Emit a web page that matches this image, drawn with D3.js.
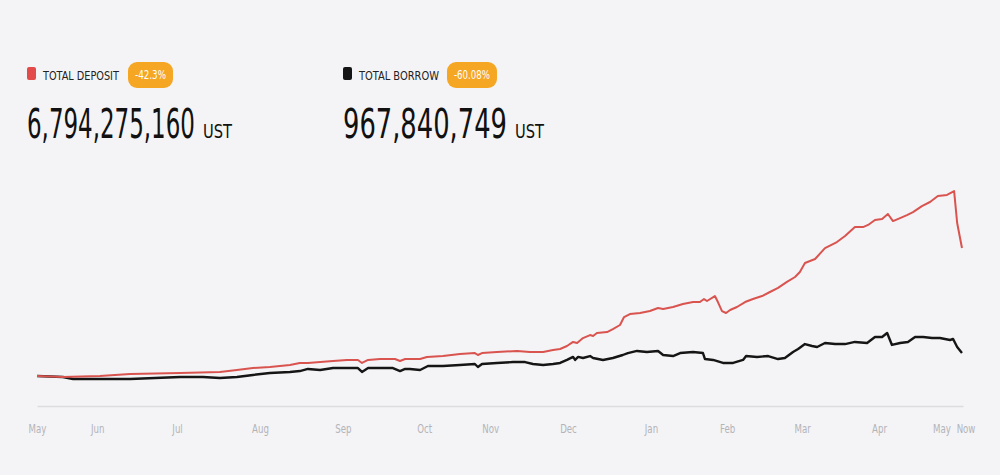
<!DOCTYPE html>
<html>
<head>
<meta charset="utf-8">
<script src="https://cdn.jsdelivr.net/npm/d3@7"></script>
<style>
  html, body { margin: 0; padding: 0; background: #f4f4f6; }
  svg { display: block; }
  .narrow { font-family: "DejaVu Sans Condensed", "Liberation Sans Narrow", sans-serif; }
</style>
</head>
<body>
<div id="chart"></div>
<script>
// Series: [day since start, value in billions UST]
const depositSeries = [
  [0, 2.00], [10.2, 1.93], [24.8, 2.00], [36.7, 2.13], [56.4, 2.20], [72.1, 2.27],
  [78.8, 2.40], [85.1, 2.53], [91.8, 2.60], [99.7, 2.73], [103.6, 2.87], [106.8, 2.87],
  [111.6, 2.93], [116.7, 3.00], [122.2, 3.07], [126.5, 3.07], [128.1, 2.87], [130.5, 3.07],
  [135.2, 3.13], [141.1, 3.13], [143.1, 3.00], [145.1, 3.13], [151.0, 3.13], [153.7, 3.27],
  [160.0, 3.33], [166.7, 3.47], [172.6, 3.53], [173.8, 3.40], [175.4, 3.53], [181.3, 3.60],
  [189.2, 3.67], [194.3, 3.60], [199.5, 3.60], [203.4, 3.73], [206.2, 3.80], [208.9, 4.00],
  [211.3, 4.27], [212.9, 4.20], [215.2, 4.53], [218.0, 4.73], [219.2, 4.67], [220.7, 4.87],
  [224.7, 4.93], [227.0, 5.13], [229.8, 5.40], [231.4, 5.93], [233.7, 6.13], [237.7, 6.20],
  [241.6, 6.33], [244.8, 6.53], [246.8, 6.47], [250.7, 6.60], [254.6, 6.80], [258.6, 6.93],
  [261.3, 6.93], [262.9, 7.13], [264.1, 7.00], [267.2, 7.33], [268.4, 6.93], [270.0, 6.33],
  [271.6, 6.20], [273.2, 6.40], [275.9, 6.60], [279.1, 6.93], [282.2, 7.13], [285.8, 7.33],
  [288.9, 7.60], [292.1, 7.87], [295.6, 8.27], [298.8, 8.60], [300.7, 8.93], [302.7, 9.53],
  [306.7, 9.80], [310.6, 10.53], [315.3, 10.93], [318.5, 11.33], [322.4, 11.93], [325.6, 11.93],
  [327.6, 12.07], [330.3, 12.40], [333.1, 12.47], [335.4, 12.80], [337.4, 12.33], [340.2, 12.53],
  [342.9, 12.73], [345.3, 12.93], [348.8, 13.33], [352.0, 13.60], [355.1, 14.00], [358.7, 14.07],
  [361.5, 14.33], [362.7, 12.20], [364.6, 10.53]
];

const borrowSeries = [
  [0, 2.00], [10.2, 1.93], [14.2, 1.80], [36.7, 1.80], [56.4, 1.93], [65.4, 1.93],
  [72.1, 1.87], [78.8, 1.93], [85.1, 2.07], [91.8, 2.20], [99.7, 2.27], [103.6, 2.33],
  [106.8, 2.47], [111.6, 2.40], [116.7, 2.53], [126.5, 2.53], [128.1, 2.27], [130.5, 2.53],
  [140.3, 2.53], [143.1, 2.33], [145.1, 2.47], [147.0, 2.47], [151.0, 2.40], [154.1, 2.67],
  [160.0, 2.67], [166.7, 2.73], [172.6, 2.80], [173.8, 2.60], [175.4, 2.80], [181.3, 2.87],
  [187.6, 2.93], [192.4, 2.93], [195.5, 2.80], [199.5, 2.73], [203.4, 2.80], [206.2, 2.87],
  [208.9, 3.07], [211.3, 3.27], [212.1, 3.07], [213.3, 3.27], [215.2, 3.20], [218.0, 3.33],
  [219.2, 3.20], [223.1, 3.07], [227.0, 3.20], [230.9, 3.40], [232.9, 3.53], [236.5, 3.67],
  [240.4, 3.60], [244.8, 3.67], [246.8, 3.40], [250.7, 3.33], [253.5, 3.53], [258.6, 3.60],
  [262.5, 3.53], [263.3, 3.13], [266.5, 3.07], [270.4, 2.87], [274.4, 2.87], [278.3, 3.07],
  [279.5, 3.33], [283.8, 3.27], [288.2, 3.33], [292.1, 3.13], [294.8, 3.20], [298.0, 3.60],
  [300.0, 3.80], [302.7, 4.13], [305.5, 4.00], [307.5, 3.93], [310.6, 4.20], [314.6, 4.13],
  [318.5, 4.13], [322.4, 4.27], [327.2, 4.20], [330.3, 4.60], [333.1, 4.60], [335.1, 4.87],
  [337.0, 4.07], [340.2, 4.20], [343.3, 4.27], [346.1, 4.60], [349.3, 4.60], [352.8, 4.53],
  [355.9, 4.53], [359.9, 4.40], [361.1, 4.47], [362.7, 3.93], [364.6, 3.53]
];

const tickDays = [0, 23.7, 55.2, 87.9, 120.6, 152.6, 178.6, 209.3, 242.0, 272.0, 301.6, 331.9, 356.5, 366];
const tickLabels = ["May", "Jun", "Jul", "Aug", "Sep", "Oct", "Nov", "Dec", "Jan", "Feb", "Mar", "Apr", "May", "Now"];

const legendItems = [
  { label: "TOTAL DEPOSIT", change: "-42.3%", total: "6,794,275,160", unit: "UST", color: "#e34b4b" },
  { label: "TOTAL BORROW", change: "-60.08%", total: "967,840,749", unit: "UST", color: "#151515" }
];

const width = 1000, height = 475;
const margin = { top: 181, right: 37, bottom: 69, left: 37 };

const svg = d3.select('#chart')
  .append('svg')
  .attr('width', width)
  .attr('height', height);

svg.append('rect').attr('width', width).attr('height', height).attr('fill', '#f4f4f6');

const x = d3.scaleLinear()
  .domain([0, 365])
  .range([margin.left, width - margin.right]);

const y = d3.scaleLinear()
  .domain([0, 15])
  .range([height - margin.bottom, margin.top]);

// squeeze a text horizontally to a target width (the reference font is condensed)
function fitWidth(sel, x0, y0, w) {
  sel.each(function(d, i) {
    const t = d3.select(this);
    const target = typeof w === 'function' ? w(d, i) : w;
    const len = this.getComputedTextLength();
    const tx = typeof x0 === 'function' ? x0(d, i) : x0;
    t.attr('transform', `translate(${tx},${y0}) scale(${target / len},1)`);
  });
}

// header
const header = svg.selectAll('.legend')
  .data(legendItems)
  .join('g')
  .attr('class', 'legend narrow')
  .attr('transform', (d, i) => `translate(${i === 0 ? 27 : 343},0)`);

header.append('rect')
  .attr('x', 0).attr('y', 67)
  .attr('width', 9).attr('height', 13)
  .attr('rx', 2)
  .attr('fill', d => d.color);

header.append('text')
  .attr('font-size', '12.5px')
  .attr('fill', '#222')
  .text(d => d.label)
  .call(fitWidth, 16, 79.5, (d, i) => i === 0 ? 76 : 80);

const badgeX = [101, 104], badgeW = [45, 50];
header.append('rect')
  .attr('x', (d, i) => badgeX[i])
  .attr('y', 62)
  .attr('width', (d, i) => badgeW[i])
  .attr('height', 26)
  .attr('rx', 9)
  .attr('fill', '#f5a623');

header.append('text')
  .attr('text-anchor', 'middle')
  .attr('font-size', '12px')
  .attr('fill', '#fff')
  .text(d => d.change)
  .call(fitWidth, (d, i) => badgeX[i] + badgeW[i] / 2, 79, (d, i) => i === 0 ? 31 : 36);

header.append('text')
  .attr('font-size', '41px')
  .attr('fill', '#111')
  .text(d => d.total)
  .call(fitWidth, 0, 138, (d, i) => i === 0 ? 168 : 164);

header.append('text')
  .attr('font-size', '20px')
  .attr('fill', '#111')
  .text(d => d.unit)
  .call(fitWidth, (d, i) => i === 0 ? 176 : 172, 138, 29);

// x axis
const xAxis = svg.append('g')
  .attr('class', 'narrow')
  .attr('transform', `translate(0,${height - margin.bottom})`)
  .call(d3.axisBottom(x)
    .tickValues(tickDays)
    .tickSize(0)
    .tickPadding(18)
    .tickFormat((d, i) => tickLabels[i]));

xAxis.select('.domain').attr('stroke', '#dcdcdf').attr('stroke-width', 1.5);
xAxis.selectAll('text')
  .attr('font-size', '12px')
  .attr('fill', '#b3b3b8')
  .attr('transform', 'scale(0.8,1)')
  .style('font-family', '"DejaVu Sans Condensed", sans-serif');

// lines
const line = d3.line()
  .x(d => x(d[0]))
  .y(d => y(d[1]));

svg.append('path')
  .datum(borrowSeries)
  .attr('fill', 'none')
  .attr('stroke', '#151515')
  .attr('stroke-width', 2.4)
  .attr('stroke-linejoin', 'round')
  .attr('d', line);

svg.append('path')
  .datum(depositSeries)
  .attr('fill', 'none')
  .attr('stroke', '#d9534f')
  .attr('stroke-width', 2)
  .attr('stroke-linejoin', 'round')
  .attr('d', line);
</script>
</body>
</html>
